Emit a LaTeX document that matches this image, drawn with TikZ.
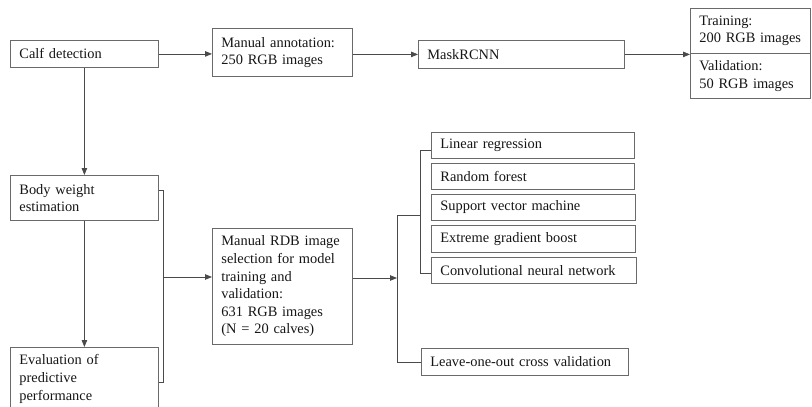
\documentclass[tikz,border=0pt]{standalone}
\usepackage{fontspec}
\setmainfont{Liberation Serif}
\usetikzlibrary{arrows.meta}
\definecolor{boxc}{HTML}{6A6A6A}
\definecolor{linec}{HTML}{4A4A4A}
\definecolor{txt}{HTML}{151515}
\tikzset{
 box/.style={draw=boxc, line width=0.8pt, inner xsep=9pt, inner ysep=0pt, anchor=north west, align=left, text=txt, font=\fontsize{14.4}{17.6}\selectfont},
 conn/.style={draw=linec, line width=0.8pt},
 arr/.style={conn, -{Triangle[length=7pt,width=5.5pt]}},
}
\begin{document}
\begin{tikzpicture}[x=1pt,y=-1pt]
\useasboundingbox (0,0) rectangle (812,407);
% top row
\node[box, text width=130pt, minimum height=27pt] (calf) at (10,40) {Calf detection};
\node[box, text width=122pt, minimum height=48pt] (annot) at (212,28) {Manual annotation:\\250 RGB images};
\node[box, text width=188pt, minimum height=28pt] (mask) at (418,40) {MaskRCNN};
\node[box, text width=102pt, minimum height=45pt] (train) at (690,8) {Training:\\200 RGB images};
\node[box, text width=102pt, minimum height=45pt] (valid) at (690,53) {Validation:\\50 RGB images};
% left column
\node[box, text width=130pt, minimum height=45pt] (bw) at (10,175) {Body weight\\estimation};
\node[box, text width=130pt, minimum height=63pt] (ev) at (10,347) {Evaluation of\\predictive\\performance};
% middle
\node[box, text width=122pt, minimum height=116pt] (rdb) at (212,228) {Manual RDB image\\selection for model\\training and\\validation:\\631 RGB images\\(N = 20 calves)};
% models
\node[box, text width=185pt, minimum height=26pt] (lr) at (431,132) {Linear regression};
\node[box, text width=185pt, minimum height=26pt] (rf) at (431,163) {Random forest};
\node[box, text width=186pt, minimum height=26pt] (svm) at (431,194) {Support vector machine};
\node[box, text width=186pt, minimum height=27pt] (xgb) at (431,225) {Extreme gradient boost};
\node[box, text width=187pt, minimum height=26pt] (cnn) at (431,257) {Convolutional neural network};
\node[box, text width=189pt, minimum height=27pt] (loo) at (421,348) {Leave-one-out cross validation};
% bracket coordinates
\coordinate (lbt) at (163,190);
\coordinate (lbb) at (163,382);
\coordinate (lbm) at (163,277);
\coordinate (mbt) at (397,215);
\coordinate (mbb) at (397,362);
\coordinate (mbm) at (397,278);
\coordinate (sbt) at (420,150);
\coordinate (sbb) at (420,273);
% connectors
\draw[arr] (calf.east) -- (calf.east -| annot.west);
\draw[arr] (annot.east |- mask.west) -- (mask.west);
\draw[arr] (mask.east) -- (mask.east -| valid.west);
\draw[arr] (calf.south) -- (bw.north);
\draw[arr] (bw.south) -- (ev.north);
\draw[conn] (lbt -| bw.east) -- (lbt) -- (lbb) -- (lbb -| ev.east);
\draw[arr] (lbm) -- (lbm -| rdb.west);
\draw[arr] (mbm -| rdb.east) -- (mbm);
\draw[conn] (mbt -| sbt) -- (mbt) -- (mbb) -- (mbb -| loo.west);
\draw[conn] (sbt -| lr.west) -- (sbt) -- (sbb) -- (sbb -| cnn.west);
\end{tikzpicture}
\end{document}
